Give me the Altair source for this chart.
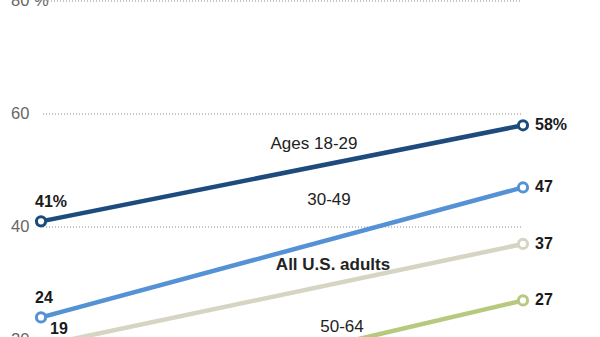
import altair as alt
import pandas as pd

series = ["Ages 18-29", "30-49", "All U.S. adults", "50-64"]
start_values = [41, 24, 19, 7]
end_values = [58, 47, 37, 27]
start_labels = ["41%", "24", "19", "7"]
end_labels = ["58%", "47", "37", "27"]
colors = ["#1d4b7d", "#5592d5", "#d6d4c3", "#b7c97f"]
grid_values = [20, 40, 60, 80]
grid_labels = ["20", "40", "60", "80 %"]

rows = []
for s, a, b, la, lb in zip(series, start_values, end_values, start_labels, end_labels):
    rows.append({"series": s, "t": 0, "value": a, "label": la})
    rows.append({"series": s, "t": 1, "value": b, "label": lb})
df = pd.DataFrame(rows)
grid = pd.DataFrame({"v": grid_values, "lab": grid_labels})

FONT = "Liberation Sans"
xs = alt.Scale(domain=[-0.0851, 1.1598], nice=False, zero=False)
ys = alt.Scale(domain=[20.53, 80.177], nice=False, zero=False)
X = alt.X("t:Q", scale=xs, axis=None)
Y = alt.Y("value:Q", scale=ys, axis=None)
col = alt.Color("series:N", scale=alt.Scale(domain=series, range=colors), legend=None)

gridlines = alt.Chart(grid).transform_calculate(
    xs0="datum.v == 80 ? 48 : 43"
).mark_rule(color="#8a8a8a", strokeDash=[1, 2], strokeWidth=1).encode(
    x=alt.X("xs0:Q", scale=None), x2=alt.value(521),
    y=alt.Y("v:Q", scale=ys, axis=None)
)
gridtext = alt.Chart(grid).mark_text(
    align="left", baseline="middle", font=FONT, fontSize=16.5, color="#666666"
).encode(x=alt.value(11), y=alt.Y("v:Q", scale=ys, axis=None), text="lab:N")

lines = alt.Chart(df).mark_line(strokeWidth=4.5).encode(x=X, y=Y, color=col, detail="series:N")
points = alt.Chart(df).mark_point(filled=True, fill="white", size=85, strokeWidth=3, opacity=1).encode(
    x=X, y=Y, stroke=alt.Stroke("series:N", scale=alt.Scale(domain=series, range=colors), legend=None)
)

right = alt.Chart(df).transform_filter("datum.t == 1").mark_text(
    align="left", baseline="middle", dx=12, font=FONT, fontSize=16, fontWeight="bold", color="#1a1a1a"
).encode(x=X, y=Y, text="label:N")
left_a = alt.Chart(df).transform_filter("datum.t == 0 && datum.value > 20").mark_text(
    align="left", baseline="middle", dx=-6, dy=-19, font=FONT, fontSize=16, fontWeight="bold", color="#1a1a1a"
).encode(x=X, y=Y, text="label:N")
left_b = alt.Chart(df).transform_filter("datum.t == 0 && datum.value <= 20").mark_text(
    align="left", baseline="middle", dx=9, dy=-17, font=FONT, fontSize=16, fontWeight="bold", color="#1a1a1a"
).encode(x=X, y=Y, text="label:N")

def series_label(text, px, py, bold=False):
    return alt.Chart(pd.DataFrame({"s": [text]})).mark_text(
        align="center", baseline="middle", font=FONT, fontSize=17,
        fontWeight="bold" if bold else "normal", color="#222222"
    ).encode(x=alt.value(px), y=alt.value(py), text="s:N")

labels = (series_label(series[0], 314, 144) + series_label(series[1], 329, 200)
          + series_label(series[2], 333, 265, True) + series_label(series[3], 342, 327))

chart = alt.layer(gridlines, gridtext, lines, points, right, left_a, left_b, labels).properties(
    width=600, height=337, autosize=alt.AutoSizeParams(type="none"), padding=0
).configure_view(stroke=None)

chart.save("out.html", embed_options={"renderer": "svg", "actions": False})
